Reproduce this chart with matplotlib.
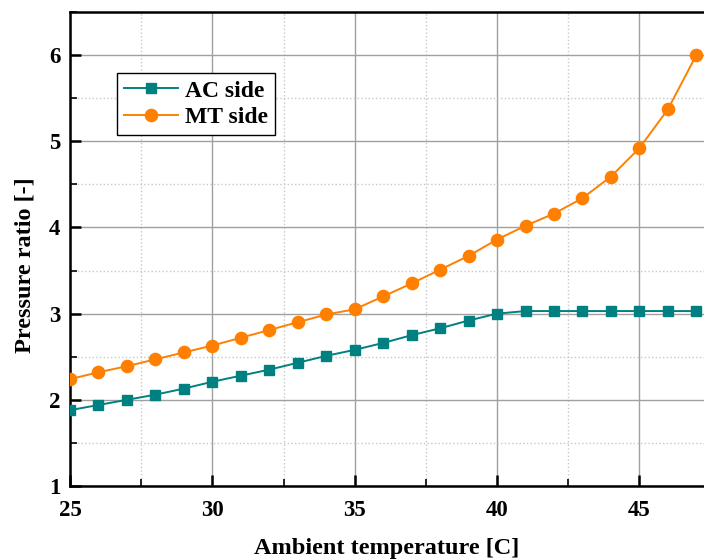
import numpy as np
import matplotlib.pyplot as plt
from matplotlib.ticker import MultipleLocator

T = [25, 26, 27, 28, 29, 30, 31, 32, 33, 34, 35, 36, 37, 38, 39, 40,
     41, 42, 43, 44, 45, 46, 47]
AC = [1.88, 1.94, 2.00, 2.06, 2.13, 2.21, 2.28, 2.35, 2.43, 2.51, 2.58, 2.66,
      2.75, 2.83, 2.92, 3.00, 3.03, 3.03, 3.03, 3.03, 3.03, 3.03, 3.03]
MT = [2.24, 2.32, 2.39, 2.47, 2.55, 2.63, 2.72, 2.81, 2.90, 2.99, 3.05, 3.20,
      3.35, 3.51, 3.67, 3.86, 4.02, 4.16, 4.34, 4.59, 4.92, 5.37, 6.00]

plt.rcParams['font.family'] = 'Liberation Serif'
plt.rcParams['font.weight'] = 'bold'
font1 = {'family': 'Liberation Serif', 'weight': 'bold', 'size': 17.5}
font2 = {'family': 'Liberation Serif', 'weight': 'bold', 'size': 17}

fig = plt.figure(figsize=(7.04, 5.59), dpi=100)
ax = fig.add_axes([70/704, 1 - 486/559, 634/704, 474/559])

ax.plot(T, AC, color='#008080', marker='s', markersize=7.2, linewidth=1.4,
        label='AC side', zorder=3)
ax.plot(T, MT, color='#ff8000', marker='o', markersize=8.8, linewidth=1.4,
        label='MT side', zorder=3)

ax.set_xlim(25, 47.27)
ax.set_ylim(1, 6.5)
ax.xaxis.set_major_locator(MultipleLocator(5))
ax.xaxis.set_minor_locator(MultipleLocator(2.5))
ax.yaxis.set_major_locator(MultipleLocator(1))
ax.yaxis.set_minor_locator(MultipleLocator(0.5))

ax.grid(which='major', color='#a0a0a0', linewidth=1.0)
ax.grid(which='minor', color='#c8c8c8', linestyle=':', linewidth=1.0)
ax.set_axisbelow(True)

ax.tick_params(which='major', direction='in', length=8, width=1.8,
               labelsize=16.5)
ax.tick_params(axis='x', which='major', pad=10)
ax.tick_params(axis='y', which='major', pad=7)
ax.tick_params(which='minor', direction='in', length=5, width=1.2)
ax.spines['right'].set_visible(False)
for s in ['left', 'bottom', 'top']:
    ax.spines[s].set_linewidth(1.8)

ax.set_xlabel('Ambient temperature [C]', fontdict=font1, labelpad=12.5)
ax.set_ylabel('Pressure ratio [-]', fontdict=font1)
ax.yaxis.set_label_coords(-0.055, 0.466)

leg = ax.legend(loc='upper left', bbox_to_anchor=(0.074, 0.871), prop=font2,
                fancybox=False, framealpha=1, edgecolor='black',
                handlelength=2.3, borderpad=0.3, labelspacing=0.2,
                handletextpad=0.3, borderaxespad=0)
leg.get_frame().set_linewidth(1.0)

plt.savefig('out.png', dpi=100)
